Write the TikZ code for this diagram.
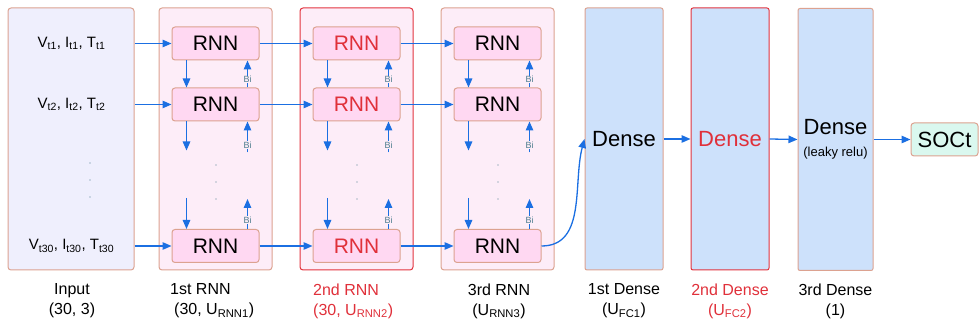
\documentclass[tikz,border=0pt]{standalone}
\usepackage{fontspec}
\setmainfont{Liberation Sans}
\usetikzlibrary{arrows.meta}

\definecolor{edgesalmon}{HTML}{DCA290}
\definecolor{edgered}{HTML}{E2343E}
\definecolor{txtred}{HTML}{E0303A}
\definecolor{flowblue}{HTML}{1B6FE2}
\definecolor{inputfill}{HTML}{EFEFFD}
\definecolor{panelfill}{HTML}{FDEDF8}
\definecolor{rnnfill}{HTML}{FFD8F2}
\definecolor{densefill}{HTML}{CDE1FB}
\definecolor{socfill}{HTML}{DAF8EF}
\definecolor{bigrey}{HTML}{4E7D8E}

\tikzset{
  panel/.style={draw=edgesalmon, line width=1pt, rounded corners=3pt, inner sep=0pt,
    minimum width=113pt, minimum height=262pt, fill=panelfill},
  rnnbox/.style={draw=edgesalmon, line width=1pt, rounded corners=3pt, fill=rnnfill,
    minimum width=87pt, minimum height=33pt, inner sep=0pt, font=\fontsize{21}{24}\selectfont},
  densebox/.style={draw=edgesalmon, line width=1pt, rounded corners=2pt, fill=densefill,
    minimum width=78pt, minimum height=262pt, inner sep=0pt, align=center,
    font=\fontsize{22}{25}\selectfont},
  invec/.style={font=\fontsize{15}{18}\selectfont, inner sep=0pt},
  caption/.style={font=\fontsize{16}{20}\selectfont, align=center, inner sep=0pt},
  flow/.style={draw=flowblue, line width=1.3pt, -{Triangle[length=9pt,width=7.5pt]}},
  bilabel/.style={font=\fontsize{9}{10}\selectfont, text=bigrey, fill=panelfill, inner sep=0.6pt},
}

\begin{document}
\begin{tikzpicture}[x=1pt, y=-1pt]
  \useasboundingbox (0,0) rectangle (979,328);

  % input column
  \node[panel, fill=inputfill, minimum width=126pt] (inp) at (71,139) {};
  \node[invec] (in1) at (71.5,43.5) {V\textsubscript{t1}, I\textsubscript{t1}, T\textsubscript{t1}};
  \node[invec] (in2) at (71.5,104.5) {V\textsubscript{t2}, I\textsubscript{t2}, T\textsubscript{t2}};
  \node[invec] (in3) at (71.5,246) {V\textsubscript{t30}, I\textsubscript{t30}, T\textsubscript{t30}};
  \foreach \dy in {163,180,197}
    \fill[bigrey] (90,\dy) circle (0.7pt);

  % recurrent layers
  \foreach \p/\cx/\tc/\ec in {1/215.5/black/edgesalmon, 2/356.5/txtred/edgered, 3/497.5/black/edgesalmon} {
    \node[panel, draw=\ec] (pan\p) at (\cx,139) {};
    \node[rnnbox, text=\tc] (r\p1) at (\cx,43.5) {RNN};
    \node[rnnbox, text=\tc] (r\p2) at (\cx,104.5) {RNN};
    \node[rnnbox, text=\tc] (r\p3) at (\cx,246) {RNN};
    \coordinate (dm\p) at ([xshift=15pt,yshift=-29pt]r\p2.south west);
    \coordinate (dn\p) at ([xshift=15pt,yshift=31pt]r\p3.north west);
    \coordinate (um\p) at ([xshift=-12pt,yshift=-31pt]r\p2.south east);
    \coordinate (un\p) at ([xshift=-12pt,yshift=30pt]r\p3.north east);
    \draw[flow] ([xshift=15pt]r\p1.south west) -- ([xshift=15pt]r\p2.north west);
    \draw[flow] ([xshift=15pt]r\p2.south west) -- (dm\p);
    \draw[flow] (dn\p) -- ([xshift=15pt]r\p3.north west);
    \draw[flow] ([xshift=-12pt]r\p2.north east) -- node[bilabel, pos=0.3] {Bi} ([xshift=-12pt]r\p1.south east);
    \draw[flow] (um\p) -- node[bilabel, pos=0.25] {Bi} ([xshift=-12pt]r\p2.south east);
    \draw[flow] ([xshift=-12pt]r\p3.north east) -- node[bilabel, pos=0.3] {Bi} (un\p);
    \foreach \dy in {165,182,199}
      \fill[bigrey] (\cx+0.5,\dy) circle (0.7pt);
  }

  \foreach \k in {1,2,3} {
    \draw[flow] (in\k -| inp.east) -- (r1\k.west);
    \draw[flow] (r1\k.east) -- (r2\k.west);
    \draw[flow] (r2\k.east) -- (r3\k.west);
  }

  % dense layers
  \node[densebox] (d1) at (624,139) {Dense};
  \node[densebox, draw=edgered, text=txtred] (d2) at (730,139) {Dense};
  \node[densebox, minimum width=75pt] (d3) at (835.5,139.5) {Dense\\[-3pt]{\fontsize{13}{15}\selectfont (leaky relu)}};
  \node[rnnbox, fill=socfill, minimum width=67pt, font=\fontsize{22}{25}\selectfont] (soc) at (944.5,139.5) {SOCt};

  \draw[flow] (r33.east) to[out=0, in=-105] (d1.west);
  \draw[flow] (d1.east) -- (d2.west);
  \draw[flow] (d2.east) -- (d3.west);
  \draw[flow] (d3.east |- soc.west) -- (soc.west);

  % captions
  \node[caption] (cin) at (72,301) {Input\\(30, 3)};
  \node[caption, align=left, anchor=west] (c1) at (170,301) {1st RNN\\\hspace{4pt}(30, U\textsubscript{RNN1})};
  \node[caption, align=left, anchor=west, text=txtred] (c2) at (313,301) {2nd RNN\\(30, U\textsubscript{RNN2})};
  \node[caption] (c3) at (499,301) {3rd RNN\\(U\textsubscript{RNN3})};
  \node[caption] (cd1) at (624,301) {1st Dense\\(U\textsubscript{FC1})};
  \node[caption, text=txtred] (cd2) at (730,301) {2nd Dense\\(U\textsubscript{FC2})};
  \node[caption] (cd3) at (835.5,301) {3rd Dense\\(1)};
\end{tikzpicture}
\end{document}
